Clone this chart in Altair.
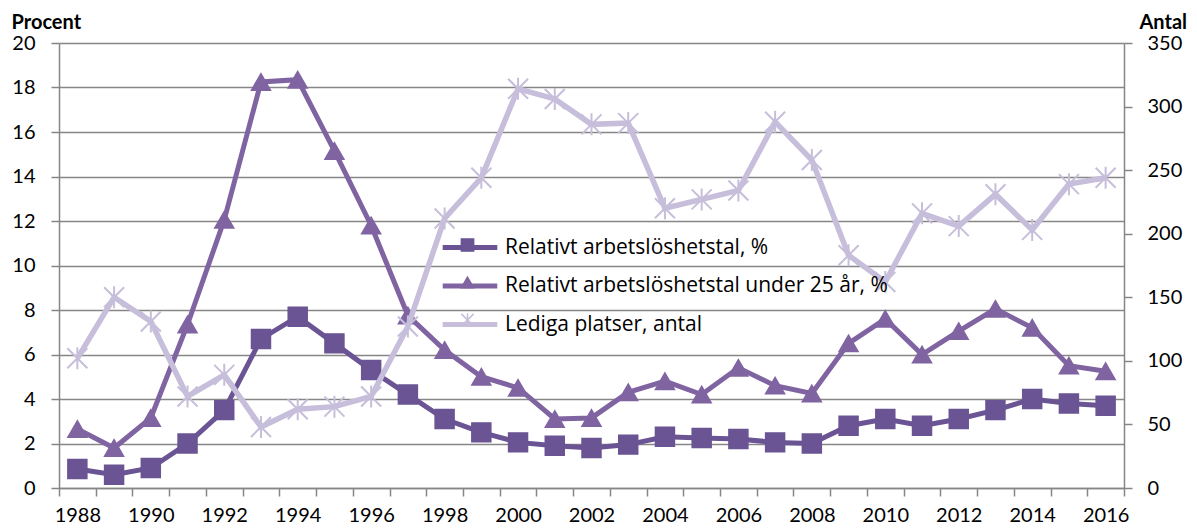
import altair as alt
import pandas as pd

years = list(range(1988, 2017))
rel = [0.85, 0.6, 0.9, 2.0, 3.5, 6.7, 7.7, 6.5, 5.3, 4.2, 3.1, 2.5, 2.05, 1.9, 1.8,
       1.95, 2.3, 2.25, 2.2, 2.05, 2.0, 2.8, 3.1, 2.8, 3.1, 3.5, 4.0, 3.8, 3.7]
young = [2.65, 1.8, 3.15, 7.35, 12.05, 18.25, 18.35, 15.15, 11.8, 7.75, 6.2, 5.0, 4.5, 3.1, 3.15,
         4.3, 4.8, 4.2, 5.4, 4.6, 4.25, 6.5, 7.6, 6.0, 7.05, 8.05, 7.2, 5.5, 5.25]
lediga = [102, 150, 131, 72, 89, 48, 62, 64, 72, 127, 212, 244, 314, 306, 286,
          287, 220, 227, 234, 288, 258, 183, 162, 216, 206, 231, 203, 239, 244]

names = ["Relativt arbetslöshetstal, %",
         "Relativt arbetslöshetstal under 25 år, %",
         "Lediga platser, antal"]
marker_keys = ["m1", "m2", "m3"]
colors = ["#6A5494", "#8064A2", "#C6BEDA"]
ASTER = "M-1,-1L1,1M-1,1L1,-1M0,-1.1L0,1.1"
shapes = ["square", "triangle-up", ASTER]

pct_df = pd.DataFrame({
    "year": years + years,
    "value": rel + young,
    "series": [names[0]] * len(years) + [names[1]] * len(years),
    "mk": [marker_keys[0]] * len(years) + [marker_keys[1]] * len(years),
})
ant_df = pd.DataFrame({
    "year": years,
    "value": lediga,
    "series": [names[2]] * len(years),
    "mk": [marker_keys[2]] * len(years),
})

FONT = "Lato"
LFONT = "Open Sans"
GREY = "#868686"

half = [y - 0.5 for y in years] + [years[-1] + 0.5]
even = [y for y in years if y % 2 == 0]
x_axis = alt.Axis(
    values=sorted(half + even), title=None, grid=False,
    labelExpr="datum.value % 2 == 0 ? format(datum.value, 'd') : ''",
    tickOpacity=alt.condition("datum.value % 1 == 0", alt.value(0), alt.value(1)),
    tickSize=8, tickWidth=1.5, tickColor=GREY, domainColor=GREY, domainWidth=1.5,
    labelFont=FONT, labelFontSize=20, labelColor="black", labelPadding=9,
    labelOverlap=False, labelFlush=False, labelBound=False,
)
x_enc = alt.X("year:Q", scale=alt.Scale(domain=[1987.5, 2016.5], nice=False, zero=False), axis=x_axis)

y_left = alt.Y("value:Q", scale=alt.Scale(domain=[0, 20], nice=False),
               axis=alt.Axis(values=list(range(0, 21, 2)), grid=True, gridColor=GREY, gridWidth=1.5,
                             domainColor=GREY, domainWidth=1.5, tickColor=GREY, tickWidth=1.5, tickSize=8,
                             labelFont=FONT, labelFontSize=20, labelColor="black", labelPadding=16,
                             title="Procent", titleAngle=0, titleAlign="left", titleBaseline="alphabetic",
                             titleX=-48, titleY=-15, titleFont=FONT, titleFontSize=20,
                             titleFontWeight="bold", titleColor="black"))
y_right = alt.Y("value:Q", scale=alt.Scale(domain=[0, 350], nice=False),
                axis=alt.Axis(orient="right", values=list(range(0, 351, 50)), grid=False,
                              domainColor=GREY, domainWidth=1.5, tickColor=GREY, tickWidth=1.5, tickSize=8,
                              labelFont=FONT, labelFontSize=20, labelColor="black", labelPadding=15,
                              title="Antal", titleAngle=0, titleAlign="left", titleBaseline="alphabetic",
                              titleX=15, titleY=-15, titleFont=FONT, titleFontSize=20,
                              titleFontWeight="bold", titleColor="black"))

LX, LY = 398, 191.5
line_legend = alt.Legend(orient="none", legendX=LX, legendY=LY, title=None, padding=0,
                         symbolType="M-2.6,0H2.6", symbolSize=441, symbolStrokeWidth=5,
                         labelFont=LFONT, labelFontSize=21, labelColor="black", labelLimit=0,
                         labelOffset=22, rowPadding=15.5, symbolOpacity=1)
mk_legend = alt.Legend(orient="none", legendX=LX, legendY=LY, title=None, padding=0,
                       symbolSize=150, symbolStrokeWidth=1.5,
                       labelFont=LFONT, labelFontSize=21, labelExpr="''",
                       labelOffset=22, rowPadding=15.5, symbolOpacity=1)

color_enc = alt.Color("series:N", scale=alt.Scale(domain=names, range=colors), legend=line_legend)
mk_scale = alt.Scale(domain=marker_keys, range=colors)
fill_enc = alt.Fill("mk:N", scale=mk_scale, legend=mk_legend)
stroke_enc = alt.Stroke("mk:N", scale=mk_scale, legend=mk_legend)
shape_enc = alt.Shape("mk:N", scale=alt.Scale(domain=marker_keys, range=shapes), legend=mk_legend)

line_pct = alt.Chart(pct_df).mark_line(strokeWidth=5).encode(x=x_enc, y=y_left, color=color_enc)
pts_pct = alt.Chart(pct_df).mark_point(filled=True, size=360, strokeWidth=1.5, opacity=1).encode(
    x=x_enc, y=y_left, fill=fill_enc, stroke=stroke_enc, shape=shape_enc)
line_ant = alt.Chart(ant_df).mark_line(strokeWidth=5.5).encode(x=x_enc, y=y_right, color=color_enc)
pts_ant = alt.Chart(ant_df).mark_point(filled=True, size=400, strokeWidth=2, opacity=1).encode(
    x=x_enc, y=y_right, fill=fill_enc, stroke=stroke_enc, shape=shape_enc)

chart = alt.layer(
    alt.layer(line_pct, pts_pct),
    alt.layer(line_ant, pts_ant),
).resolve_scale(y="independent").properties(
    width=1065, height=445,
    autosize=alt.AutoSizeParams(type="none"),
    padding={"left": 51, "top": 35, "right": 65, "bottom": 38},
    background="white",
).configure_view(stroke=None)

chart.save("out.html", embed_options={"renderer": "svg", "actions": False})
